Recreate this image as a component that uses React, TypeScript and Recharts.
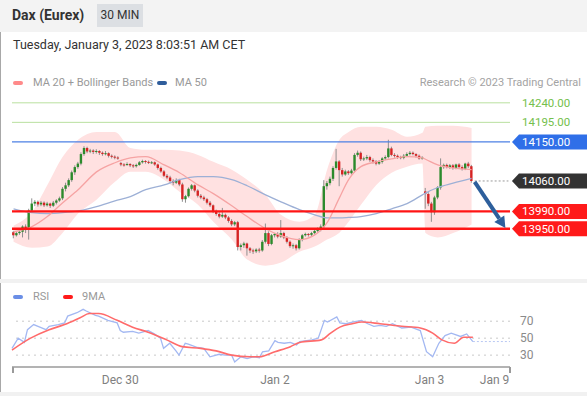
import { ComposedChart, Bar, Line, Area, XAxis, YAxis, ReferenceLine } from "recharts"

const FONT = "Roboto, 'Open Sans', Arial, sans-serif"

// 30 min candles, Dec 29 -> Jan 3 08:00
const opens = [
  13942, 13935, 13940, 13943, 13955, 13948, 13992, 14008, 14012, 14006,
  14010, 14004, 14008, 14003, 14010, 14015, 14020, 14042, 14050, 14062,
  14080, 14092, 14100, 14122, 14136, 14128, 14130, 14127, 14129, 14125,
  14122, 14124, 14118, 14116, 14114, 14101, 14098, 14097, 14099, 14096,
  14094, 14097, 14103, 14106, 14104, 14102, 14103, 14098, 14090, 14082,
  14072, 14068, 14060, 14056, 14062, 14052, 14018, 14025, 14042, 14050,
  14038, 14026, 14022, 14018, 14010, 14004, 13990, 13984, 13978, 13982,
  13976, 13968, 13960, 13965, 13908, 13912, 13916, 13905, 13900, 13898,
  13902, 13900, 13920, 13940, 13915, 13935, 13938, 13932, 13940, 13930,
  13920, 13910, 13912, 13905, 13925, 13935, 13938, 13936, 13940, 13945,
  13950, 13955, 14048, 14055, 14065, 14090, 14105, 14085, 14075, 14082,
  14078, 14084, 14120, 14125, 14110, 14112, 14115, 14108, 14105, 14100,
  14104, 14112, 14115, 14135, 14120, 14118, 14115, 14113, 14118, 14122,
  14125, 14122, 14118, 14112, 14036, 14030, 14008, 13988, 14022, 14045,
  14092, 14097, 14092, 14096, 14090, 14098, 14092, 14088, 14100, 14094,
]
const highs = [
  13945, 13944, 13948, 13958, 13960, 13996, 14020, 14016, 14015, 14014,
  14013, 14012, 14010, 14014, 14018, 14024, 14046, 14056, 14066, 14084,
  14096, 14104, 14126, 14140, 14139, 14134, 14133, 14133, 14131, 14128,
  14129, 14126, 14121, 14119, 14117, 14104, 14101, 14103, 14101, 14099,
  14100, 14106, 14109, 14108, 14107, 14106, 14105, 14100, 14093, 14085,
  14076, 14072, 14064, 14066, 14065, 14056, 14028, 14045, 14053, 14052,
  14041, 14030, 14026, 14021, 14014, 14006, 13994, 13988, 13998, 13985,
  13979, 13972, 13968, 13968, 13916, 13920, 13918, 13908, 13904, 13905,
  13906, 13924, 13962, 13944, 13938, 13940, 13942, 13970, 13943, 13933,
  13923, 13916, 13915, 13928, 13938, 13941, 13940, 13943, 13948, 13953,
  13960, 14062, 14060, 14070, 14094, 14134, 14108, 14090, 14086, 14085,
  14088, 14124, 14130, 14128, 14116, 14120, 14118, 14112, 14108, 14108,
  14115, 14119, 14155, 14139, 14124, 14121, 14118, 14122, 14126, 14129,
  14128, 14124, 14121, 14117, 14044, 14034, 14012, 14026, 14048, 14112,
  14100, 14100, 14099, 14099, 14100, 14101, 14096, 14102, 14104, 14097,
]
const lows = [
  13928, 13932, 13936, 13930, 13940, 13925, 13990, 14002, 14001, 14002,
  14000, 14001, 13998, 14000, 14006, 14012, 14016, 14036, 14046, 14058,
  14074, 14088, 14096, 14118, 14124, 14124, 14122, 14123, 14120, 14118,
  14119, 14114, 14112, 14110, 14109, 14094, 14093, 14095, 14092, 14090,
  14091, 14095, 14100, 14100, 14099, 14099, 14095, 14086, 14079, 14069,
  14064, 14055, 14050, 14053, 14048, 14012, 14010, 14022, 14038, 14034,
  14022, 14018, 14014, 14006, 14000, 13986, 13980, 13974, 13975, 13972,
  13964, 13956, 13956, 13900, 13900, 13906, 13888, 13894, 13892, 13894,
  13895, 13897, 13916, 13910, 13912, 13930, 13928, 13929, 13926, 13916,
  13906, 13904, 13900, 13902, 13921, 13932, 13932, 13933, 13937, 13941,
  13944, 13948, 14040, 14050, 14060, 14086, 14048, 14070, 14072, 14074,
  14075, 14080, 14116, 14106, 14106, 14108, 14104, 14100, 14096, 14097,
  14100, 14108, 14112, 14117, 14114, 14111, 14110, 14110, 14115, 14119,
  14119, 14114, 14109, 14109, 13996, 14002, 13966, 13982, 14018, 14040,
  14088, 14089, 14088, 14086, 14087, 14088, 14084, 14085, 14090, 14056,
]
const closes = [
  13935, 13940, 13943, 13955, 13948, 13992, 14008, 14012, 14006, 14010,
  14004, 14008, 14003, 14010, 14015, 14020, 14042, 14050, 14062, 14080,
  14092, 14100, 14122, 14136, 14128, 14130, 14127, 14129, 14125, 14122,
  14124, 14118, 14116, 14114, 14113, 14098, 14097, 14099, 14096, 14094,
  14097, 14103, 14106, 14104, 14102, 14103, 14098, 14090, 14082, 14072,
  14068, 14060, 14056, 14062, 14052, 14018, 14025, 14042, 14050, 14038,
  14026, 14022, 14018, 14010, 14004, 13990, 13984, 13978, 13982, 13976,
  13968, 13960, 13965, 13908, 13912, 13916, 13905, 13900, 13898, 13902,
  13900, 13920, 13940, 13915, 13935, 13938, 13932, 13940, 13930, 13920,
  13910, 13912, 13905, 13925, 13935, 13938, 13936, 13940, 13945, 13950,
  13955, 14048, 14055, 14065, 14090, 14105, 14085, 14075, 14082, 14078,
  14084, 14120, 14125, 14110, 14112, 14115, 14108, 14105, 14100, 14104,
  14112, 14115, 14135, 14120, 14118, 14115, 14113, 14118, 14122, 14125,
  14122, 14118, 14112, 14114, 14030, 14008, 13988, 14022, 14045, 14092,
  14097, 14092, 14096, 14090, 14098, 14092, 14088, 14100, 14094, 14060,
]

// MA 20, Bollinger bands and MA 50 read at these candle positions
const studyIdx = [0, 6, 11, 16, 21, 27, 33, 38, 43, 49, 54, 60, 65, 71, 76, 82, 87, 93, 98, 102, 106, 109, 113, 118, 123, 128, 133, 134, 138, 143, 149]
const ma20 = [13943, 13955, 13978, 14010, 14040, 14081, 14102, 14113, 14116, 14097, 14079, 14051, 14031, 14003, 13978, 13950, 13934, 13925, 13936, 13964, 14021, 14063, 14093, 14104, 14111, 14116, 14113, 14110, 14097, 14090, 14086]
const bbUpper = [13957, 13989, 14051, 14116, 14155, 14173, 14173, 14136, 14132, 14132, 14130, 14120, 14104, 14086, 14063, 14028, 13982, 13966, 13982, 14086, 14155, 14173, 14185, 14185, 14178, 14162, 14171, 14185, 14187, 14187, 14182]
const bbLower = [13920, 13906, 13909, 13941, 13985, 14017, 14058, 14081, 14081, 14063, 14035, 14005, 13966, 13925, 13879, 13865, 13872, 13897, 13909, 13925, 13941, 13966, 14005, 14051, 14079, 14093, 14100, 13940, 13930, 13940, 13960]
const ma50 = [13996, 13987, 13985, 13987, 13991, 14001, 14014, 14024, 14040, 14051, 14063, 14070, 14070, 14063, 14049, 14028, 14012, 13994, 13982, 13975, 13975, 13976, 13978, 13985, 13996, 14008, 14028, 14032, 14045, 14055, 14066]

const rsiIdx = [0, 2, 4, 5, 7, 9, 11, 12, 15, 17, 18, 21, 23, 24, 27, 28, 31, 34, 35, 36, 39, 41, 43, 44, 46, 48, 49, 51, 53, 54, 56, 57, 60, 62, 64, 67, 69, 71, 72, 74, 76, 78, 80, 81, 83, 85, 86, 88, 90, 92, 93, 97, 99, 101, 102, 105, 106, 108, 110, 113, 115, 117, 119, 121, 123, 126, 129, 132, 134, 136, 138, 140, 142, 145, 147, 149]
const rsi = [38, 50, 45, 60, 66, 63, 60, 64, 66, 68, 76, 80, 84, 82, 77, 76, 71, 68, 59, 57, 58, 56, 58, 59, 55, 50, 38, 44, 35, 30, 44, 43, 39, 38, 28, 31, 30, 30, 22, 28, 26, 28, 27, 34, 35, 47, 45, 44, 45, 42, 46, 48, 50, 71, 69, 75, 68, 67, 69, 71, 67, 64, 65, 64, 67, 62, 63, 59, 34, 28, 44, 53, 56, 52, 55, 46]
const rsiMaIdx = [0, 6, 12, 17, 22, 25, 28, 34, 39, 44, 50, 55, 61, 66, 71, 77, 80, 85, 90, 93, 100, 103, 106, 110, 113, 119, 126, 132, 136, 139, 143, 146, 149]
const rsiMa = [36, 50, 60, 66, 74, 79, 79, 71, 63, 57, 48, 40, 38, 35, 30, 28, 28, 34, 40, 45, 48, 56, 63, 67, 69, 67, 64, 62, 56, 48, 44, 51, 51]

const lastPrice = 14060
const lastRsi = 46
const levels = [14240, 14195, 14150, 13990, 13950]
const levelKinds = ["res", "res", "pivot", "sup", "sup"]
const target = 13950

const rsiTicks = [30, 50, 70]
const tickIdx = [35, 85, 135, 156]
const tickLabels = ["Dec 30", "Jan 2", "Jan 3", "Jan 9"]

const SLOTS = 162

const pick = (idx: number[], vals: number[], i: number) => {
  const k = idx.indexOf(i)
  return k < 0 ? null : vals[k]
}

const rows = Array.from({ length: SLOTS }, (_, i) => {
  const has = i < closes.length
  const up = pick(studyIdx, bbUpper, i)
  const lo = pick(studyIdx, bbLower, i)
  return {
    i,
    open: has ? opens[i] : null,
    high: has ? highs[i] : null,
    low: has ? lows[i] : null,
    close: has ? closes[i] : null,
    range: has ? [lows[i], highs[i]] : null,
    ma20: pick(studyIdx, ma20, i),
    ma50: pick(studyIdx, ma50, i),
    bb: up == null ? [null, null] : [lo, up],
    rsi: pick(rsiIdx, rsi, i),
    rsiMa: pick(rsiMaIdx, rsiMa, i),
  }
})

const KIND_STYLE: Record<string, { line: string; width: number; bg: string | null; text: string }> = {
  res: { line: "#b9e09f", width: 1, bg: null, text: "#74c04c" },
  pivot: { line: "#4d80e4", width: 1.2, bg: "#2f6fe8", text: "#fff" },
  last: { line: "#999", width: 1, bg: "#333", text: "#fff" },
  sup: { line: "#ff1414", width: 2.4, bg: "#ff1a1a", text: "#fff" },
}

function Tag({ x, y, value, kind }: { x: number; y: number; value: number; kind: string }) {
  const s = KIND_STYLE[kind]
  const h = 15
  const tx = x + 2
  return (
    <g>
      {s.bg && (
        <path
          d={`M${tx},${y} L${tx + 7},${y - h / 2} L587,${y - h / 2} L587,${y + h / 2} L${tx + 7},${y + h / 2} Z`}
          fill={s.bg}
        />
      )}
      <text x={tx + 10} y={y + 4} fontSize={11.5} fontFamily={FONT} fill={s.text}>
        {value.toFixed(2)}
      </text>
    </g>
  )
}

const Candle = (props: any) => {
  const { x, y, width, height, payload } = props
  if (!payload || payload.open == null) return null
  const { open, close, high, low } = payload
  const top = Math.min(y, y + height)
  const h = Math.abs(height)
  const py = (p: number) => top + (high === low ? 0 : (h * (high - p)) / (high - low))
  const cx = x + width / 2
  const bt = py(Math.max(open, close))
  const bb = py(Math.min(open, close))
  const up = close >= open
  return (
    <g>
      <line x1={cx} x2={cx} y1={top} y2={top + h} stroke="#8f8f8f" strokeWidth={1} />
      <rect x={cx - 1.2} y={bt} width={2.4} height={Math.max(1, bb - bt)} fill={up ? "#2c8a2c" : "#d62323"} />
    </g>
  )
}

const Arrow = (p: any) => {
  const { x1, y1, x2, y2 } = p
  const a = Math.atan2(y2 - y1, x2 - x1)
  const len = 11
  const bx = x2 - len * Math.cos(a)
  const by = y2 - len * Math.sin(a)
  const nx = -Math.sin(a) * 6
  const ny = Math.cos(a) * 6
  return (
    <g>
      <line x1={x1} y1={y1} x2={bx} y2={by} stroke="#2d5f9c" strokeWidth={4} />
      <path d={`M${x2},${y2} L${bx + nx},${by + ny} L${bx - nx},${by - ny} Z`} fill="#2d5f9c" />
    </g>
  )
}

const tickFmt = (v: number) => {
  const k = tickIdx.indexOf(v)
  return k < 0 ? "" : tickLabels[k]
}

const txt = (extra: React.CSSProperties): React.CSSProperties => ({
  position: "absolute",
  fontFamily: FONT,
  whiteSpace: "nowrap",
  ...extra,
})

export default function App() {
  return (
    <div style={{ position: "absolute", left: 0, top: 0, width: 587, height: 396, background: "#fff", overflow: "hidden" }}>
      <div style={{ position: "absolute", left: 0, top: 0, width: 587, height: 32, background: "#f3f3f3" }} />
      <div style={txt({ left: 12, top: 7, fontSize: 14, fontWeight: 700, color: "#333" })}>Dax (Eurex)</div>
      <div
        style={txt({
          left: 97, top: 4, width: 46, height: 23, background: "#dcdfe3",
          fontSize: 12, color: "#333", textAlign: "center", lineHeight: "23px",
        })}
      >
        30 MIN
      </div>
      <div style={{ position: "absolute", left: 0, top: 32, width: 1, height: 364, background: "#a8a8a8" }} />
      <div style={txt({ left: 13, top: 37, fontSize: 12.5, color: "#333" })}>
        Tuesday, January 3, 2023 8:03:51 AM CET
      </div>

      <div style={{ position: "absolute", left: 13, top: 81, width: 10, height: 4, borderRadius: 2, background: "#ff8a8a" }} />
      <div style={txt({ left: 33, top: 76, fontSize: 11, color: "#999" })}>MA 20 + Bollinger Bands</div>
      <div style={{ position: "absolute", left: 157, top: 81, width: 10, height: 4, borderRadius: 2, background: "#2f5d9b" }} />
      <div style={txt({ left: 175, top: 76, fontSize: 11, color: "#999" })}>MA 50</div>
      <div style={txt({ right: 6, top: 76, fontSize: 11, color: "#a3a3a3" })}>Research © 2023 Trading Central</div>

      <div style={{ position: "absolute", left: 0, top: 85 }}>
        <ComposedChart width={587} height={195} data={rows} margin={{ top: 10, right: 77, bottom: 10, left: 12 }}>
          <XAxis dataKey="i" type="category" hide />
          <YAxis type="number" domain={[13855, 14258]} allowDataOverflow hide />
          <Area
            dataKey="bb"
            type="monotone"
            fill="#ffe1e1"
            fillOpacity={1}
            stroke="none"
            connectNulls
            isAnimationActive={false}
          />
          <Line dataKey="ma50" type="monotone" stroke="#9db0d6" strokeWidth={1.3} dot={false} connectNulls isAnimationActive={false} />
          <Line dataKey="ma20" type="monotone" stroke="#f6a3a3" strokeWidth={1.3} dot={false} connectNulls isAnimationActive={false} />
          <Bar dataKey="range" shape={Candle} isAnimationActive={false} />
          {levels.map((lvl, k) => {
            const s = KIND_STYLE[levelKinds[k]]
            return (
              <ReferenceLine
                key={lvl}
                y={lvl}
                shape={(p: any) => (
                  <g>
                    <line x1={p.x1} y1={p.y1} x2={p.x2} y2={p.y2} stroke={s.line} strokeWidth={s.width} />
                    <Tag x={p.x2} y={p.y1} value={lvl} kind={levelKinds[k]} />
                  </g>
                )}
              />
            )
          })}
          <ReferenceLine
            segment={[{ x: closes.length, y: lastPrice }, { x: SLOTS - 1, y: lastPrice }]}
            shape={(p: any) => (
              <g>
                <line x1={p.x1} y1={p.y1} x2={p.x2} y2={p.y2} stroke="#9a9a9a" strokeWidth={1} strokeDasharray="2 2" />
                <Tag x={p.x2 + 1.5} y={p.y1} value={lastPrice} kind="last" />
              </g>
            )}
          />
          <ReferenceLine
            segment={[{ x: closes.length, y: lastPrice - 2 }, { x: SLOTS - 2, y: target + 2 }]}
            shape={Arrow}
          />
        </ComposedChart>
      </div>

      <div style={{ position: "absolute", left: 0, top: 279, width: 587, height: 4, background: "#f1f1f1" }} />

      <div style={{ position: "absolute", left: 13, top: 295, width: 10, height: 4, borderRadius: 2, background: "#6a8ee6" }} />
      <div style={txt({ left: 33, top: 290, fontSize: 11, color: "#999" })}>RSI</div>
      <div style={{ position: "absolute", left: 63, top: 295, width: 10, height: 4, borderRadius: 2, background: "#ff1a1a" }} />
      <div style={txt({ left: 82, top: 290, fontSize: 11, color: "#999" })}>9MA</div>

      <div style={{ position: "absolute", left: 0, top: 300 }}>
        <ComposedChart width={587} height={92} data={rows} margin={{ top: 0, right: 37, bottom: 0, left: 12 }}>
          <XAxis
            dataKey="i"
            type="category"
            ticks={tickIdx}
            interval={0}
            tickFormatter={tickFmt}
            tickLine={false}
            axisLine={{ stroke: "#9a9a9a", strokeWidth: 1.5 }}
            tick={{ fill: "#808080", fontSize: 12, fontFamily: FONT }}
            height={25}
          />
          <YAxis
            orientation="right"
            type="number"
            domain={[16, 95]}
            allowDataOverflow
            ticks={rsiTicks}
            interval={0}
            width={40}
            axisLine={false}
            tickLine={false}
            tickMargin={4}
            tick={{ fill: "#8a8a8a", fontSize: 12, fontFamily: FONT }}
          />
          {rsiTicks.map((v) => (
            <ReferenceLine key={v} y={v} stroke="#c9c9c9" strokeDasharray="2 4" />
          ))}
          <Line dataKey="rsi" type="linear" stroke="#a3b8f2" strokeWidth={1.3} dot={false} connectNulls isAnimationActive={false} />
          <Line dataKey="rsiMa" type="monotone" stroke="#ff6b6b" strokeWidth={1.6} dot={false} connectNulls isAnimationActive={false} />
          <ReferenceLine
            segment={[{ x: closes.length - 1, y: lastRsi }, { x: SLOTS - 1, y: lastRsi }]}
            stroke="#b9c8f3"
            strokeDasharray="2 2"
          />
        </ComposedChart>
      </div>
      <div style={{ position: "absolute", left: 12, top: 367, width: 1.5, height: 6, background: "#9a9a9a" }} />
      <div style={{ position: "absolute", left: 509, top: 367, width: 1.5, height: 6, background: "#9a9a9a" }} />
      <div style={{ position: "absolute", left: 0, top: 392, width: 587, height: 4, background: "#f1f1f1" }} />
    </div>
  )
}
